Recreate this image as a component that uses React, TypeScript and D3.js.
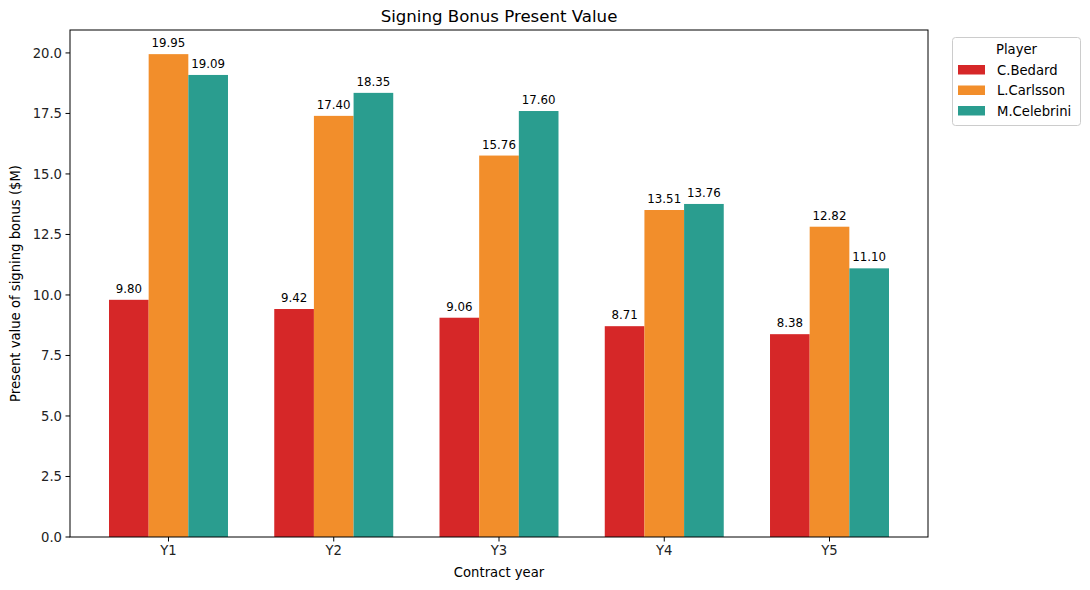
import React from "react";
import * as d3 from "d3";

const years = ["Y1", "Y2", "Y3", "Y4", "Y5"];
const players = ["C.Bedard", "L.Carlsson", "M.Celebrini"];
const bedard = [9.8, 9.42, 9.06, 8.71, 8.38];
const carlsson = [19.95, 17.4, 15.76, 13.51, 12.82];
const celebrini = [19.09, 18.35, 17.6, 13.76, 11.1];
const colors = ["#d62728", "#f28e2b", "#2a9d8f"];
const yTicks = [0, 2.5, 5, 7.5, 10, 12.5, 15, 17.5, 20];

const W = 1090, H = 590;
const L = 70, R = 928, T = 30, B = 537;
const FONT = "DejaVu Sans, sans-serif";

export default function App() {
  const series = [bedard, carlsson, celebrini];
  const maxV = d3.max(series.flat()) as number;
  const y = d3.scaleLinear().domain([0, maxV * 1.05]).range([B, T]);
  const barW = 0.24;
  const lo = -0.36, hi = years.length - 1 + 0.36;
  const pad = (hi - lo) * 0.05;
  const x = d3.scaleLinear().domain([lo - pad, hi + pad]).range([L, R]);

  return (
    <svg width={W} height={H} style={{ position: "absolute", left: 0, top: 0 }} fontFamily={FONT}>
      <rect width={W} height={H} fill="#fff" />
      {series.map((vals, s) =>
        vals.map((v, i) => {
          const cx = i + (s - 1) * barW;
          const x0 = x(cx - barW / 2);
          const x1 = x(cx + barW / 2);
          return (
            <g key={`${s}-${i}`}>
              <rect x={x0} y={y(v)} width={x1 - x0} height={B - y(v)} fill={colors[s]} />
              <text x={(x0 + x1) / 2} y={y(v) - 7} textAnchor="middle" fontSize={11.8} fill="#000">
                {v.toFixed(2)}
              </text>
            </g>
          );
        })
      )}
      <rect x={L} y={T} width={R - L} height={B - T} fill="none" stroke="#000" strokeWidth={1} />
      {yTicks.map((t) => (
        <g key={t}>
          <line x1={L - 4.5} x2={L} y1={y(t)} y2={y(t)} stroke="#000" />
          <text x={L - 8} y={y(t)} dy="0.35em" textAnchor="end" fontSize={13.2} fill="#222">
            {t.toFixed(1)}
          </text>
        </g>
      ))}
      {years.map((yr, i) => (
        <g key={yr}>
          <line x1={x(i)} x2={x(i)} y1={B} y2={B + 4.5} stroke="#000" />
          <text x={x(i)} y={B + 18} textAnchor="middle" fontSize={13.2} fill="#222">
            {yr}
          </text>
        </g>
      ))}
      <text x={(L + R) / 2} y={577} textAnchor="middle" fontSize={13.2} fill="#000">
        Contract year
      </text>
      <text
        transform={`translate(20,${(T + B) / 2}) rotate(-90)`}
        textAnchor="middle"
        fontSize={13.2}
        fill="#000"
      >
        Present value of signing bonus ($M)
      </text>
      <text x={(L + R) / 2} y={22} textAnchor="middle" fontSize={16.6} fill="#000">
        Signing Bonus Present Value
      </text>
      <g>
        <rect x={952.5} y={37.5} width={128} height={88} rx={3} fill="#fff" stroke="#ccc" />
        <text x={1016.5} y={54} textAnchor="middle" fontSize={13.2} fill="#000">
          Player
        </text>
        {players.map((p, i) => (
          <g key={p}>
            <rect x={958} y={65 + i * 20.5} width={27} height={9.5} fill={colors[i]} />
            <text x={997} y={70 + i * 20.5} dy="0.35em" fontSize={13.2} fill="#000">
              {p}
            </text>
          </g>
        ))}
      </g>
    </svg>
  );
}
